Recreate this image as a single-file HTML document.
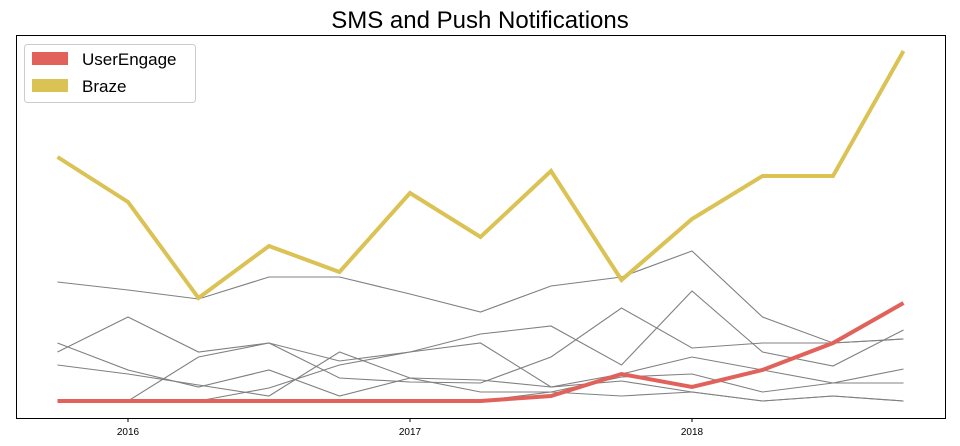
<!DOCTYPE html>
<html><head><meta charset="utf-8"><style>
body{margin:0;background:#fff;}
svg{display:block;font-family:"Liberation Sans","DejaVu Sans",sans-serif;}
</style></head><body>
<svg id="chart" width="960" height="446" viewBox="0 0 960 446">
<text x="480" y="28" text-anchor="middle" font-size="24" fill="#000">SMS and Push Notifications</text>
<rect x="16.5" y="35.5" width="929" height="383" fill="#fff" stroke="#000" stroke-width="1"/>
<g id="gray"></g>
<g id="main"></g>
<g id="xaxis"></g>
<g>
<rect x="24.5" y="44.5" width="171" height="58" rx="3" fill="#fff" stroke="#ccc"/>
<rect x="32" y="52" width="36" height="13" fill="#e0625a"/>
<text x="82" y="65" font-size="17">UserEngage</text>
<rect x="32" y="79" width="36" height="13" fill="#dbc254"/>
<text x="82" y="92" font-size="17">Braze</text>
</g>
</svg>
<script>
const quarters = [2015.75,2016,2016.25,2016.5,2016.75,2017,2017.25,2017.5,2017.75,2018,2018.25,2018.5,2018.75];
const brazeValues = [244,199,103,155,129,208,164,230,121,182,225,225,350];
const userEngageValues = [0,0,0,0,0,0,0,5,27,14,31,58,98];
const other1 = [119,111,102,124,124,107,89,115,124,150,84,58,62];
const other2 = [49,84,49,58,40,49,58,14,20,9,0,5,0];
const other3 = [0,0,44,58,23,19,18,44,93,53,58,58,62];
const other4 = [0,0,0,13,36,49,67,75,36,110,49,35,71];
const other5 = [36,27,16,5,49,23,9,9,24,27,9,18,18];
const other6 = [58,31,14,31,5,23,21,14,27,44,31,18,32];
const other7 = [0,0,0,0,0,0,0,9,5,9,0,5,0];
const xTicks = [2016,2017,2018];
const xTickLabels = ["2016","2017","2018"];

const NS = "http://www.w3.org/2000/svg";
function xScale(t){ return 128 + (t - 2016) * 282; }
function yScale(v){ return 401 - v; }
function pts(vals){ return vals.map((v,i)=>xScale(quarters[i]).toFixed(1)+","+yScale(v).toFixed(1)).join(" "); }

const gray = document.getElementById("gray");
[other1,other2,other3,other4,other5,other6,other7].forEach((s,i)=>{
  const p = document.createElementNS(NS,"polyline");
  
  
  p.setAttribute("points", pts(s));
  p.setAttribute("fill","none");
  p.setAttribute("stroke","#808080");
  p.setAttribute("stroke-width","1.1");
  gray.appendChild(p);
});
const main = document.getElementById("main");
const ue = document.createElementNS(NS,"polyline");


ue.setAttribute("points", pts(userEngageValues));
ue.setAttribute("fill","none");
ue.setAttribute("stroke","#e0625a");
ue.setAttribute("stroke-width","4");
main.appendChild(ue);
const br = document.createElementNS(NS,"polyline");


br.setAttribute("points", pts(brazeValues));
br.setAttribute("fill","none");
br.setAttribute("stroke","#dbc254");
br.setAttribute("stroke-width","4");
main.appendChild(br);

const xa = document.getElementById("xaxis");
xTicks.forEach((t,i)=>{
  const l = document.createElementNS(NS,"line");
  
  
  l.setAttribute("x1",xScale(t)); l.setAttribute("x2",xScale(t));
  l.setAttribute("y1",418.5); l.setAttribute("y2",422);
  l.setAttribute("stroke","#000");
  xa.appendChild(l);
  const tx = document.createElementNS(NS,"text");
  
  
  tx.setAttribute("x",xScale(t)); tx.setAttribute("y",435);
  tx.setAttribute("text-anchor","middle");
  tx.setAttribute("font-size","10");
  tx.textContent = xTickLabels[i];
  xa.appendChild(tx);
});
</script>
</body></html>
